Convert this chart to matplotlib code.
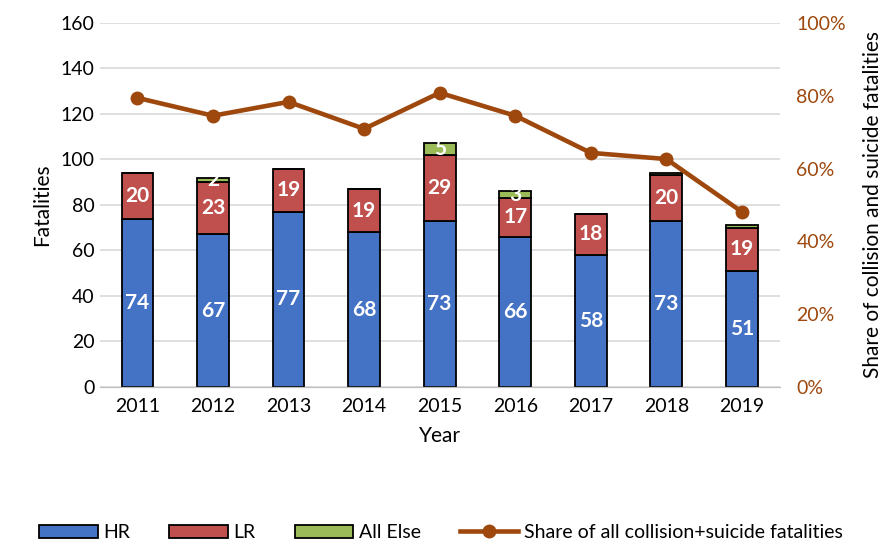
import matplotlib.pyplot as plt
import numpy as np
from matplotlib.ticker import FuncFormatter

years = ['2011', '2012', '2013', '2014', '2015', '2016', '2017', '2018', '2019']
hr = [74, 67, 77, 68, 73, 66, 58, 73, 51]
lr = [20, 23, 19, 19, 29, 17, 18, 20, 19]
all_else = [0, 2, 0, 0, 5, 3, 0, 1, 1]
share = [79.4, 74.5, 78.3, 70.9, 80.8, 74.5, 64.3, 62.6, 48.1]

blue = '#4472C4'
red = '#C0504D'
green = '#9BBB59'
brown = '#9E480E'

plt.rcParams['font.family'] = ['Lato', 'DejaVu Sans']

fig = plt.figure(figsize=(8.82, 5.45), dpi=100)
ax = fig.add_axes([0.113, 0.29, 0.771, 0.668])
ax2 = ax.twinx()

x = np.arange(len(years))
w = 0.42
hr = np.array(hr)
lr = np.array(lr)
all_else = np.array(all_else)

ax.bar(x, hr, w, color=blue, edgecolor='black', linewidth=1.3, label='HR', zorder=2)
ax.bar(x, lr, w, bottom=hr, color=red, edgecolor='black', linewidth=1.3, label='LR', zorder=2)
ax.bar(x, all_else, w, bottom=hr + lr, color=green, edgecolor='black', linewidth=1.3,
       label='All Else', zorder=2)

# value labels
for i in range(len(years)):
    ax.text(x[i], hr[i] / 2, str(hr[i]), ha='center', va='center', color='white',
            fontsize=15, fontweight='bold', zorder=3)
    ax.text(x[i], hr[i] + lr[i] / 2, str(lr[i]), ha='center', va='center', color='white',
            fontsize=15, fontweight='bold', zorder=3)
    if all_else[i] > 1:
        ax.text(x[i], hr[i] + lr[i] + all_else[i] / 2, str(all_else[i]), ha='center',
                va='center', color='white', fontsize=15, fontweight='bold', zorder=3)

ax2.plot(x, share, color=brown, linewidth=3.3, marker='o', markersize=9,
         label='Share of all collision+suicide fatalities', zorder=4)

ax.set_xlim(-0.5, 8.5)
ax.set_ylim(0, 160)
ax.set_yticks(range(0, 161, 20))
ax2.set_ylim(0, 100)
ax2.set_yticks(range(0, 101, 20))
ax2.yaxis.set_major_formatter(FuncFormatter(lambda v, p: '%d%%' % v))

ax.set_xticks(x)
ax.set_xticklabels(years)
ax.yaxis.grid(True, color='#D9D9D9', linewidth=1.2, zorder=0)
ax.set_axisbelow(True)

for a in (ax, ax2):
    for s in ['top', 'left', 'right']:
        a.spines[s].set_visible(False)
    a.spines['bottom'].set_color('#BFBFBF')
    a.tick_params(length=0, labelsize=14)
ax2.tick_params(axis='y', colors=brown, labelsize=14, pad=12)
ax.tick_params(axis='x', pad=8)

ax.set_xlabel('Year', fontsize=15, labelpad=8)
ax.set_ylabel('Fatalities', fontsize=15, labelpad=6)
ax2.set_ylabel('Share of collision and suicide fatalities', fontsize=15, labelpad=12)

h1, l1 = ax.get_legend_handles_labels()
h2, l2 = ax2.get_legend_handles_labels()
fig.legend(h1 + h2, l1 + l2, loc='lower center', bbox_to_anchor=(0.5, -0.025), ncol=4,
           frameon=False, fontsize=14, handlelength=3.0, columnspacing=2.0, handletextpad=0.3)

fig.savefig('out.png', dpi=100)
